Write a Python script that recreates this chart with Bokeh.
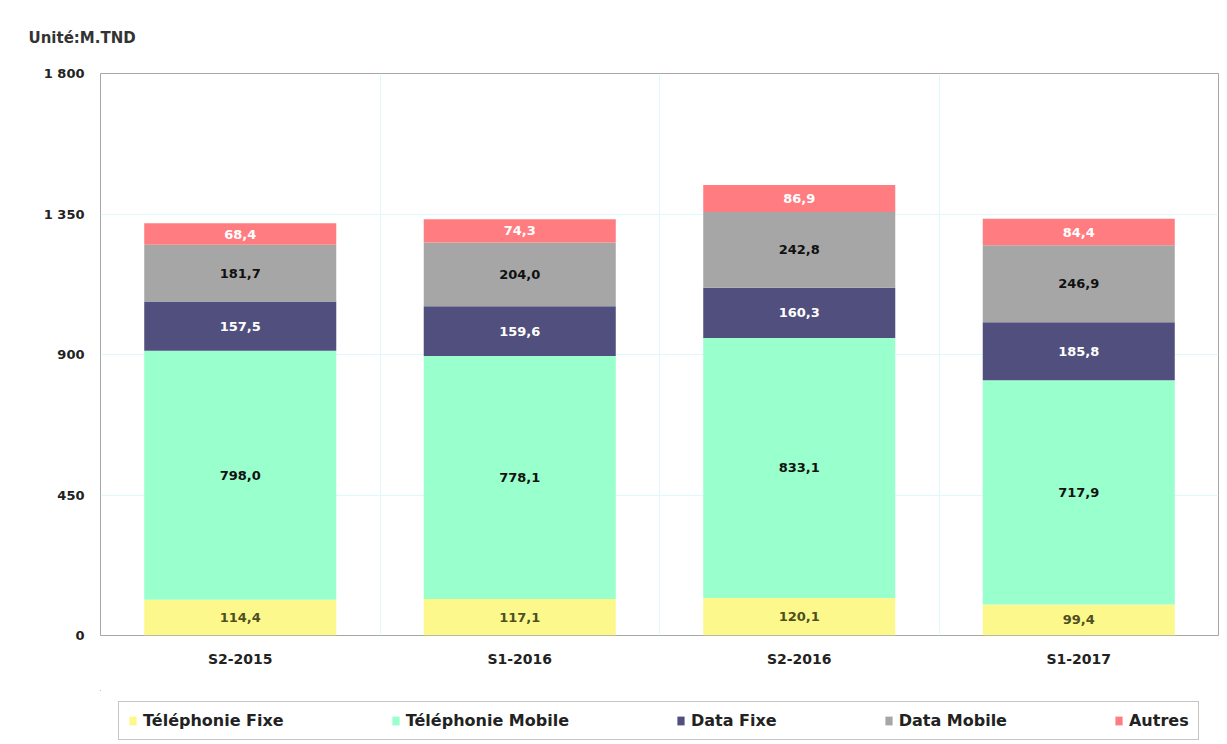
import numpy as np
from bokeh.plotting import figure
from bokeh.layouts import column
from bokeh.models import FixedTicker, Legend, LegendItem, ColumnDataSource, Range1d
from bokeh.core.properties import value
from bokeh.embed import file_html
from bokeh.resources import INLINE

categories = ["S2-2015", "S1-2016", "S2-2016", "S1-2017"]
series_names = ["Téléphonie Fixe", "Téléphonie Mobile", "Data Fixe", "Data Mobile", "Autres"]
tel_fixe = [114.4, 117.1, 120.1, 99.4]
tel_mobile = [798.0, 778.1, 833.1, 717.9]
data_fixe = [157.5, 159.6, 160.3, 185.8]
data_mobile = [181.7, 204.0, 242.8, 246.9]
autres = [68.4, 74.3, 86.9, 84.4]
y_ticks = [0, 450, 900, 1350, 1800]
y_tick_labels = ["0", "450", "900", "1 350", "1 800"]

colors = ["#FCF88C", "#99FFCC", "#504F7D", "#A6A6A6", "#FF7C80"]
label_colors = ["#4F4F22", "#111111", "#FFFFFF", "#111111", "#FFFFFF"]
FONT = "DejaVu Sans"

series = [tel_fixe, tel_mobile, data_fixe, data_mobile, autres]
xpos = np.arange(len(categories)) + 0.5
cols = [f"s{i}" for i in range(len(series))]
src = ColumnDataSource(dict(x=xpos, **{c: s for c, s in zip(cols, series)}))

p = figure(width=1219, height=690, output_backend="svg", toolbar_location=None,
           x_range=Range1d(0, len(categories)), y_range=Range1d(0, 1800),
           min_border_left=100, min_border_right=1, min_border_top=73, min_border_bottom=55)

p.title.text = "Unité:M.TND"
p.title.align = "left"
p.title.offset = -72
p.title.text_font = FONT
p.title.text_font_size = "15px"
p.title.text_font_style = "bold"
p.title.text_color = "#333333"
p.title.standoff = 53

p.outline_line_color = "#A6A6A6"
p.outline_line_width = 1

renderers = p.vbar_stack(cols, x="x", width=0.687, source=src, color=colors, line_color=None)

cum = np.zeros(len(categories))
for i, s in enumerate(series):
    arr = np.array(s)
    mids = cum + arr / 2
    cum = cum + arr
    txt = [f"{v:.1f}".replace(".", ",") for v in s]
    p.text(x=xpos, y=mids, text=txt, text_align="center", text_baseline="middle",
           text_font=value(FONT), text_font_size="13px", text_font_style="bold",
           text_color=label_colors[i])

p.xaxis.ticker = FixedTicker(ticks=list(xpos))
p.xaxis.major_label_overrides = {float(x): c for x, c in zip(xpos, categories)}
p.xaxis.axis_line_color = None
p.xaxis.major_tick_line_color = None
p.xaxis.minor_tick_line_color = None
p.xaxis.major_label_text_font = FONT
p.xaxis.major_label_text_font_size = "14px"
p.xaxis.major_label_text_font_style = "bold"
p.xaxis.major_label_text_color = "#222222"
p.xaxis.major_label_standoff = 9

p.yaxis.ticker = FixedTicker(ticks=y_ticks)
p.yaxis.major_label_overrides = {t: l for t, l in zip(y_ticks, y_tick_labels)}
p.yaxis.axis_line_color = None
p.yaxis.major_tick_line_color = None
p.yaxis.minor_tick_line_color = None
p.yaxis.major_label_text_font = FONT
p.yaxis.major_label_text_font_size = "13px"
p.yaxis.major_label_text_font_style = "bold"
p.yaxis.major_label_text_color = "#222222"
p.yaxis.major_label_standoff = 10

p.xgrid.ticker = FixedTicker(ticks=list(np.arange(1, len(categories))))
p.xgrid.grid_line_color = "#DDF9F9"
p.ygrid.ticker = FixedTicker(ticks=y_ticks[1:-1])
p.ygrid.grid_line_color = "#DDF9F9"

# legend strip (separate figure so the legend box sits under the axis labels)
pl = figure(width=1219, height=52, output_backend="svg", toolbar_location=None,
            x_axis_type=None, y_axis_type=None,
            x_range=Range1d(100, 104), y_range=Range1d(-2000, -1000),
            min_border_left=0, min_border_right=0, min_border_top=0, min_border_bottom=0)
pl.grid.visible = False
pl.outline_line_color = None
pl.title.visible = False
leg_renderers = pl.vbar_stack(cols, x="x", width=0.687, source=src, color=colors, line_color=None)

legend = Legend(items=[LegendItem(label=n, renderers=[r]) for n, r in zip(series_names, leg_renderers)],
                orientation="horizontal", location=(18, 2))
legend.label_text_font = FONT
legend.label_text_font_size = "16px"
legend.label_text_font_style = "bold"
legend.label_text_color = "#222222"
legend.glyph_width = 9
legend.glyph_height = 11
legend.label_standoff = 6
legend.spacing = 107
legend.padding = 9
legend.margin = 0
legend.border_line_color = "#8C8C8C"
legend.border_line_width = 1
legend.background_fill_color = "white"
pl.add_layout(legend, "center")

layout = column(p, pl, spacing=0)
open("out.html", "w").write(file_html(layout, INLINE))
